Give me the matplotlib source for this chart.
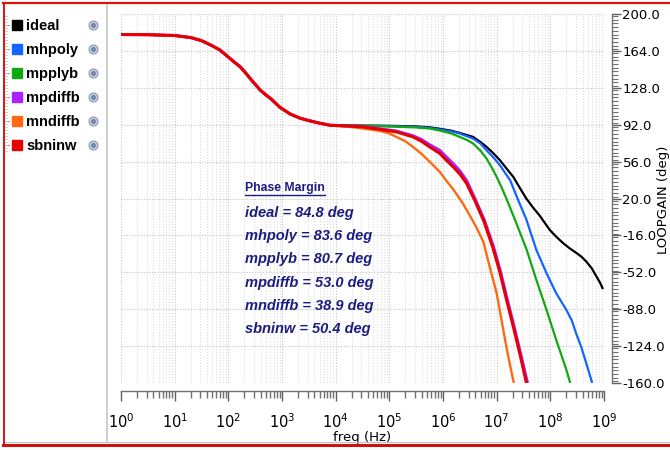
import numpy as np
import matplotlib
matplotlib.use("Agg")
import matplotlib.pyplot as plt
from matplotlib.lines import Line2D
from matplotlib.ticker import LogLocator, MultipleLocator, FixedLocator, NullFormatter

plt.rcParams['axes.unicode_minus'] = False

# ---------------- data (log10 of frequency, phase in degrees) ----------------
common_logf = [0.0, 0.5, 1.0, 1.3, 1.5, 1.7, 1.84, 2.0, 2.1, 2.22, 2.33, 2.44, 2.59, 2.7, 2.8, 2.96, 3.15, 3.33, 3.5, 3.7]
common_phase = [180, 179.8, 179, 177, 174, 169, 165, 158, 153.5, 148.6, 142, 135, 126, 121, 117, 109, 102.5, 98.5, 96, 93.5]

ideal_logf = [3.89, 5.13, 5.5, 5.75, 5.94, 6.15, 6.31, 6.56, 6.7, 6.81, 6.94, 7.06, 7.18, 7.31, 7.43, 7.55, 7.68, 7.80, 7.99, 8.12, 8.24, 8.36, 8.49, 8.58, 8.67, 8.77, 8.86, 8.93, 8.98]
ideal_phase = [91.5, 90.8, 90.3, 89.5, 88.0, 86.2, 84.0, 80.1, 75.0, 70.4, 64.0, 57.4, 49.5, 41.1, 30.5, 20.1, 11.0, 3.4, -10.7, -17.8, -23.6, -28.6, -33.3, -36.8, -41.5, -48.0, -56.1, -62.5, -68.4]

mhpoly_logf = [3.89, 5.13, 5.5, 5.75, 5.94, 6.15, 6.31, 6.56, 6.7, 6.81, 6.94, 7.06, 7.15, 7.25, 7.40, 7.55, 7.74, 7.93, 8.11, 8.30, 8.40, 8.48, 8.58, 8.67, 8.78]
mhpoly_phase = [91.5, 90.5, 89.9, 89.0, 87.3, 85.5, 83.4, 78.5, 73.5, 67.1, 60.0, 52.5, 45.5, 37.9, 18.5, 0.0, -30.2, -53.0, -72.5, -88.8, -99.0, -111.5, -125.5, -140.8, -160]

mpplyb_logf = [3.89, 4.5, 5.13, 5.5, 5.75, 5.94, 6.15, 6.31, 6.45, 6.56, 6.7, 6.81, 6.9, 7.0, 7.09, 7.18, 7.34, 7.56, 7.74, 7.93, 8.11, 8.30, 8.37]
mpplyb_phase = [91.5, 91.2, 90.0, 89.3, 88.3, 86.3, 83.5, 80.1, 77.0, 73.7, 66.5, 59.1, 51.0, 41.1, 31.0, 20.1, -0.5, -30.2, -59.5, -88.8, -118.0, -147.3, -160]

mpdiffb_logf = [3.89, 4.51, 5.13, 5.44, 5.6, 5.75, 5.94, 6.06, 6.19, 6.32, 6.44, 6.59, 6.77, 6.94, 7.07, 7.19, 7.32, 7.44, 7.575]
mpdiffb_phase = [91.5, 90.2, 85.8, 81.2, 77.5, 72.5, 67.0, 60.5, 54.0, 46.5, 37.5, 20.5, -1.0, -27.0, -51.0, -77.0, -104.0, -130.0, -160]

mndiffb_logf = [3.89, 4.2, 4.51, 4.82, 5.0, 5.13, 5.3, 5.44, 5.6, 5.75, 5.94, 6.06, 6.19, 6.37, 6.53, 6.62, 6.75, 6.87, 7.00, 7.09, 7.18, 7.28, 7.32]
mndiffb_phase = [91.5, 90.2, 88.3, 86.0, 83.5, 80.1, 75.8, 70.4, 63.5, 56.0, 46.0, 37.5, 29.0, 15.2, 0.6, -8.0, -22.0, -46.5, -72.5, -98.5, -124.6, -150.5, -160]

sbninw_logf = [3.89, 4.51, 5.13, 5.44, 5.6, 5.75, 5.94, 6.06, 6.19, 6.32, 6.44, 6.59, 6.76, 6.93, 7.06, 7.18, 7.31, 7.43, 7.555]
sbninw_phase = [91.5, 89.9, 85.0, 80.1, 75.8, 70.4, 64.0, 57.4, 50.9, 43.5, 34.7, 18.4, -2.0, -28.0, -52.0, -78.0, -105.0, -131.0, -160]

series_names = ["ideal", "mhpoly", "mpplyb", "mpdiffb", "mndiffb", "sbninw"]
series_colors = ["#000000", "#1464ff", "#12a812", "#aa22ff", "#ff6a10", "#e80000"]
series_lw = [1.6, 1.6, 1.6, 2.2, 1.7, 2.2]
series_data = [
    (ideal_logf, ideal_phase),
    (mhpoly_logf, mhpoly_phase),
    (mpplyb_logf, mpplyb_phase),
    (mpdiffb_logf, mpdiffb_phase),
    (mndiffb_logf, mndiffb_phase),
    (sbninw_logf, sbninw_phase),
]
margin_values = ["84.8", "83.6", "80.7", "53.0", "38.9", "50.4"]

y_ticks = [200, 164, 128, 92, 56, 20, -16, -52, -88, -124, -160]
x_decades = list(range(0, 10))

# ---------------- figure ----------------
W, H = 670, 450
fig = plt.figure(figsize=(W / 100, H / 100), dpi=100)
fig.patch.set_facecolor("white")


def fx(px):
    return px / W


def fy(py):
    return 1 - py / H


ax = fig.add_axes([fx(121), fy(383), (604 - 121) / W, (383 - 14) / H])
ax.set_xscale("log")
ax.set_xlim(1, 1e9)
ax.set_ylim(-160, 200)

for (lf, ph), c, lw in zip(series_data, series_colors, series_lw):
    f = 10 ** np.array(common_logf + lf)
    p = np.array(common_phase + ph)
    ax.plot(f, p, color=c, lw=lw, solid_capstyle="butt", solid_joinstyle="round")

# ticks and grid
ax.xaxis.set_major_locator(FixedLocator([10.0 ** d for d in x_decades]))
ax.xaxis.set_minor_locator(LogLocator(base=10, subs=np.arange(2, 10), numticks=30))
ax.xaxis.set_minor_formatter(NullFormatter())
ax.set_xticklabels([r"$10^{%d}$" % d for d in x_decades])
ax.yaxis.set_major_locator(FixedLocator(y_ticks))
ax.yaxis.set_minor_locator(MultipleLocator(3.6))
ax.set_yticklabels(["%.1f" % v for v in y_ticks])
ax.grid(which="major", axis="both", ls=(0, (1, 1.5)), color="#c4c4c4", lw=0.8)
ax.grid(which="minor", axis="x", ls=(0, (1, 1.5)), color="#dedede", lw=0.8)
ax.set_axisbelow(True)

for s in ["top", "left"]:
    ax.spines[s].set_visible(False)
for s in ["bottom", "right"]:
    ax.spines[s].set_position(("outward", 5.8))
    ax.spines[s].set_color("#707070")
    ax.spines[s].set_linewidth(1.0)

ax.yaxis.tick_right()
ax.tick_params(axis="x", which="major", length=7.5, width=1.0, color="#606060", pad=8, labelsize=10.5)
ax.tick_params(axis="x", which="minor", length=5, width=1.0, color="#707070")
ax.tick_params(axis="y", which="major", length=6.5, width=1.0, color="#606060", pad=1, labelsize=9.5)
ax.tick_params(axis="y", which="minor", length=4.3, width=0.8, color="#707070")
ax.set_xlabel("freq (Hz)", fontsize=9.5, labelpad=0)

fig.text(fx(664), fy(200), "LOOPGAIN (deg)", rotation=90, ha="center", va="center", fontsize=9.5)

# ---------------- phase margin annotation ----------------
navy = "#1c1c80"
hdr = fig.text(fx(245), fy(191.5), "Phase Margin", family=["Liberation Sans", "DejaVu Sans"],
               weight="bold", fontsize=8.8, color=navy, ha="left", va="baseline")
for i, (n, v) in enumerate(zip(series_names, margin_values)):
    fig.text(fx(245), fy(216.7 + i * 23.3), "%s = %s deg" % (n, v),
             family=["Liberation Sans", "DejaVu Sans"], weight="bold", style="italic",
             fontsize=10.5, color=navy, ha="left", va="baseline")

fig.canvas.draw()
bb = hdr.get_window_extent()
fig.add_artist(Line2D([fx(bb.x0), fx(bb.x1)], [fy(195), fy(195)], color=navy, lw=1.0,
                      transform=fig.transFigure))

# ---------------- left legend panel ----------------
for i, (n, c) in enumerate(zip(series_names, series_colors)):
    row = 25 + i * 24.1
    fig.add_artist(Line2D([fx(16.7)], [fy(row)], marker="s", ms=7.2, color=c, mec=c,
                          transform=fig.transFigure, ls="none"))
    fig.text(fx(26), fy(row + 5), n, family=["Liberation Sans Narrow", "Liberation Sans", "DejaVu Sans"],
             weight="bold", fontsize=10.5, color="black", ha="left", va="baseline")
    fig.add_artist(Line2D([fx(92.7)], [fy(row)], marker="o", ms=6.5, color="#c4cedf", mec="#8f9cb8",
                          mew=0.8, transform=fig.transFigure, ls="none"))
    fig.add_artist(Line2D([fx(92.7)], [fy(row)], marker="o", ms=2.6, color="#7585a5", mec="#7585a5",
                          transform=fig.transFigure, ls="none"))
    fig.add_artist(Line2D([fx(5), fx(9)], [fy(row), fy(row)], color="#a0a0a0", lw=0.8,
                          transform=fig.transFigure))

for yy in np.arange(16, 152, 3.0):
    fig.add_artist(Line2D([fx(5), fx(7)], [fy(yy), fy(yy)], color="#c8c8c8", lw=0.6,
                          transform=fig.transFigure))

# separator and frame
fig.add_artist(Line2D([fx(107), fx(107)], [fy(5), fy(441)], color="#c6c6c6", lw=1.2,
                      transform=fig.transFigure))
fig.add_artist(Line2D([fx(4), fx(670)], [fy(441.5), fy(441.5)], color="#c0c0c0", lw=0.8,
                      transform=fig.transFigure))
fig.add_artist(Line2D([fx(3), fx(670)], [fy(3), fy(3)], color="#e01010", lw=1.6,
                      transform=fig.transFigure))
fig.add_artist(Line2D([fx(4), fx(4)], [fy(3), fy(446)], color="#e01010", lw=1.4,
                      transform=fig.transFigure))
fig.add_artist(Line2D([fx(3), fx(670)], [fy(444.5), fy(444.5)], color="#d01010", lw=2.2,
                      transform=fig.transFigure))

fig.savefig("out.png", dpi=100, facecolor="white")
